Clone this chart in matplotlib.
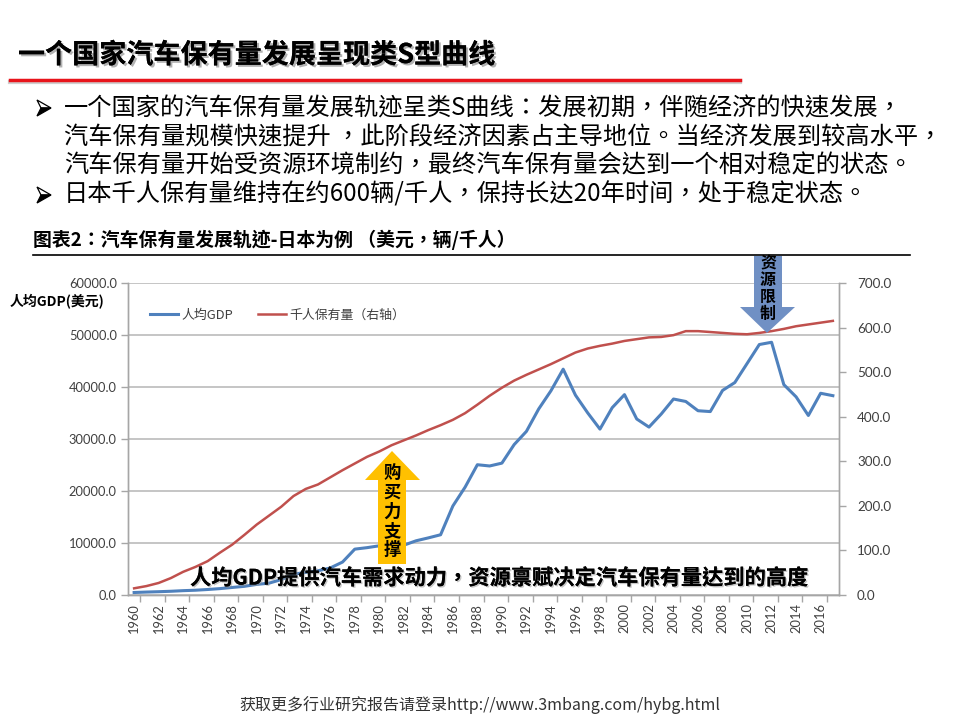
import numpy as np
import matplotlib
matplotlib.use("Agg")
import matplotlib.pyplot as plt
from matplotlib.patches import Polygon
from matplotlib.lines import Line2D
import matplotlib.patheffects as pe

# ---------------- data ----------------
years = list(range(1960, 2018))
gdp = [479, 564, 634, 718, 835, 919, 1059, 1229, 1451, 1669,
       2037, 2272, 2967, 3997, 4354, 4659, 5198, 6335, 8821, 9105,
       9463, 10361, 9578, 10425, 10984, 11585, 17112, 20745, 25052, 24813,
       25359, 28925, 31465, 35766, 39269, 43429, 38437, 35022, 31903, 36027,
       38532, 33846, 32289, 34808, 37689, 37218, 35434, 35275, 39339, 40855,
       44508, 48168, 48603, 40454, 38109, 34524, 38794, 38332]
vehicles = [15, 20, 27, 38, 52, 63, 76, 95, 113, 135,
            158, 178, 198, 222, 238, 248, 264, 280, 295, 310,
            322, 336, 347, 358, 370, 381, 393, 408, 427, 447,
            465, 481, 494, 506, 518, 531, 544, 553, 559, 564,
            570, 574, 578, 579, 583, 592, 592, 590, 588, 586,
            585, 588, 592, 597, 603, 607, 611, 615]
left_ticks = [0, 10000, 20000, 30000, 40000, 50000, 60000]
right_ticks = [0, 100, 200, 300, 400, 500, 600, 700]
series_names = ["人均GDP", "千人保有量（右轴）"]

CJK = ["Noto Sans CJK SC", "DejaVu Sans"]
CJKC = ["Noto Sans CJK TC", "Noto Sans CJK SC", "DejaVu Sans"]
NUM = ["Lato", "DejaVu Sans"]

W, H = 959, 719
fig = plt.figure(figsize=(W / 100, H / 100), dpi=100)
fig.patch.set_facecolor("white")


def P(x, y):
    return (x / W, 1 - y / H)


def bullet(y):
    # 3-D arrowhead bullet (like ➢): light upper half, black lower half
    up = Polygon([P(37, y - 8), P(51, y), P(41, y)], closed=True, transform=fig.transFigure,
                 facecolor="white", edgecolor="black", lw=0.9)
    lo = Polygon([P(41, y), P(51, y), P(37, y + 8)], closed=True, transform=fig.transFigure,
                 facecolor="black", edgecolor="black", lw=0.9)
    fig.add_artist(up)
    fig.add_artist(lo)


# ---------------- header ----------------
fig.text(*P(18, 55), "一个国家汽车保有量发展呈现类S型曲线", family=CJK, fontsize=19.5,
         fontweight="bold", color="black", va="center", ha="left",
         path_effects=[pe.withSimplePatchShadow(offset=(1.5, -1.5), shadow_rgbFace="#808080", alpha=0.6),
                       pe.Normal()])
fig.add_artist(Line2D([10 / W, 740 / W], [1 - 82 / H, 1 - 82 / H], color="#A0A0A0", lw=3, alpha=0.5,
                      transform=fig.transFigure))
fig.add_artist(Line2D([10 / W, 740 / W], [1 - 80 / H, 1 - 80 / H], color="#E8141B", lw=2.5,
                      transform=fig.transFigure))

bullets = [(108, True, "一个国家的汽车保有量发展轨迹呈类S曲线：发展初期，伴随经济的快速发展，"),
           (137, False, "汽车保有量规模快速提升 ，此阶段经济因素占主导地位。当经济发展到较高水平，"),
           (165, False, "汽车保有量开始受资源环境制约，最终汽车保有量会达到一个相对稳定的状态。"),
           (195, True, "日本千人保有量维持在约600辆/千人，保持长达20年时间，处于稳定状态。")]
for y, has_b, t in bullets:
    if has_b:
        bullet(y)
    fig.text(*P(64, y), t, family=CJKC, fontsize=17.45, va="center", ha="left", color="black")

fig.text(*P(33, 240), "图表2：汽车保有量发展轨迹-日本为例 （美元，辆/千人）", family=CJKC, fontsize=13.6,
         fontweight="bold", va="center", ha="left", color="black")
fig.add_artist(Line2D([33 / W, 910 / W], [1 - 255 / H, 1 - 255 / H], color="black", lw=1.2,
                      transform=fig.transFigure))

# ---------------- chart ----------------
L, R, T, B = 128, 839, 283, 595
ax = fig.add_axes([L / W, 1 - B / H, (R - L) / W, (B - T) / H])
ax2 = ax.twinx()
x = np.arange(len(years))

ax.set_xlim(-0.5, len(years) - 0.5)
ax.set_ylim(0, 60000)
ax2.set_ylim(0, 700)

ax.set_yticks(left_ticks)
ax.set_yticklabels([f"{v:.1f}" for v in left_ticks], family=NUM, fontsize=9.3, color="#404040")
ax2.set_yticks(right_ticks)
ax2.set_yticklabels([f"{v:.1f}" for v in right_ticks], family=NUM, fontsize=9.7, color="#404040")

ax.grid(axis="y", color="#C0C0C0", lw=1.3)
ax.set_axisbelow(True)

xt = list(range(0, len(years), 2))
ax.set_xticks(xt)
ax.set_xticklabels([str(years[i]) for i in xt], rotation=90, family=NUM, fontsize=9.3, color="#404040")
ax.set_xticks(np.arange(0.5, len(years), 2), minor=True)
ax.tick_params(axis="x", which="major", length=0, pad=6)
ax.tick_params(axis="x", which="minor", length=5, color="#A6A6A6", width=1)
ax.tick_params(axis="y", length=5, color="#A6A6A6", width=1, pad=3)
ax2.tick_params(axis="y", length=5, color="#A6A6A6", width=1, pad=8)

for a in (ax, ax2):
    a.spines["top"].set_visible(False)
    for s in ("left", "right", "bottom"):
        a.spines[s].set_color("#A6A6A6")
        a.spines[s].set_linewidth(1)

l1, = ax.plot(x, gdp, color="#4F81BD", lw=2.2, zorder=3)
l2, = ax2.plot(x, vehicles, color="#C0504D", lw=1.8, zorder=3)

leg = ax.legend([l1, l2], series_names, loc="upper left",
                bbox_to_anchor=((150 - L) / (R - L), 1 - (309 - T) / (B - T)),
                ncol=2, frameon=False, borderaxespad=0, borderpad=0,
                handlelength=2.2, handletextpad=0.25, columnspacing=1.9,
                prop={"family": CJKC, "size": 9.3})
for t in leg.get_texts():
    t.set_color("#404040")
leg.remove()
ax2.add_artist(leg)

fig.text(*P(10, 302), "人均GDP(美元)", family=CJK, fontsize=10, fontweight="bold",
         va="center", ha="left", color="black")

# ---------------- annotations ----------------
yellow = Polygon([P(392, 451), P(420, 480), P(406, 480), P(406, 564), P(378, 564), P(378, 480), P(365, 480)],
                 closed=True, transform=fig.transFigure, facecolor="#FFC000", edgecolor="none", zorder=5)
fig.add_artist(yellow)
for i, ch in enumerate("购买力支撑"):
    fig.text(*P(392, 473 + i * 19.3), ch, family=CJK, fontsize=12.5, fontweight="bold",
             va="center", ha="center", color="black", zorder=6)

blue = Polygon([P(767, 333), P(795, 307), P(782, 307), P(782, 256), P(754, 256), P(754, 307), P(740, 307)],
               closed=True, transform=fig.transFigure, facecolor="#7090C4", edgecolor="none", zorder=5)
fig.add_artist(blue)
for i, ch in enumerate("资源限制"):
    fig.text(*P(768, 263 + i * 17), ch, family=CJK, fontsize=11.5, fontweight="bold",
             va="center", ha="center", color="black", zorder=6)

fig.text(*P(190, 578), "人均GDP提供汽车需求动力，资源禀赋决定汽车保有量达到的高度", family=CJKC,
         fontsize=15.3, fontweight="bold", va="center", ha="left", color="black", zorder=7,
         path_effects=[pe.withSimplePatchShadow(offset=(1, -1), shadow_rgbFace="#909090", alpha=0.5),
                       pe.Normal()])

fig.text(*P(480, 705), "获取更多行业研究报告请登录http://www.3mbang.com/hybg.html", family=CJK,
         fontsize=11.5, va="center", ha="center", color="#333333")

fig.savefig("out.png", dpi=100, facecolor="white")
